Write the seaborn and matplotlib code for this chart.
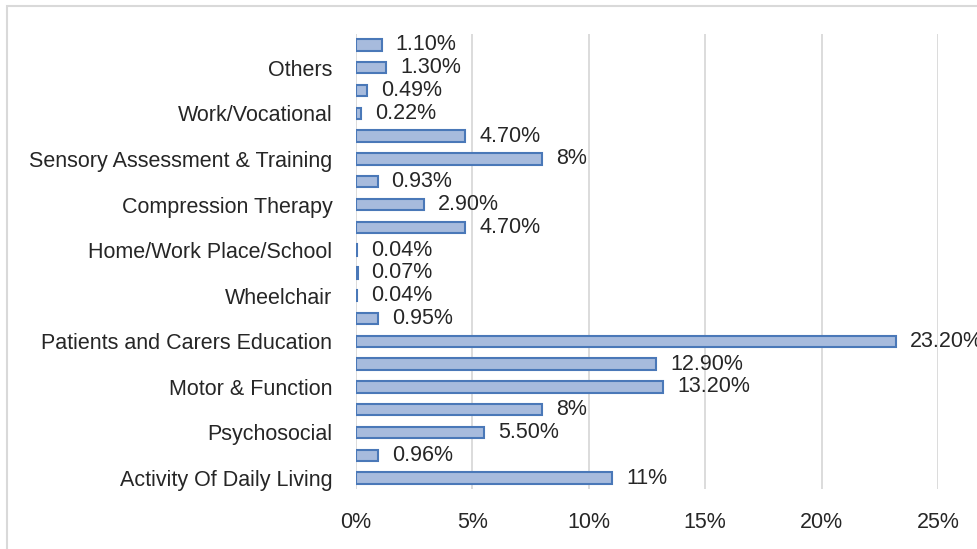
import matplotlib
matplotlib.use("Agg")
import matplotlib.pyplot as plt
import seaborn as sns
import pandas as pd
from matplotlib.patches import Rectangle

# Intervention shares (%), listed from the top bar to the bottom bar
values = [1.10, 1.30, 0.49, 0.22, 4.70, 8, 0.93, 2.90, 4.70, 0.04,
          0.07, 0.04, 0.95, 23.20, 12.90, 13.20, 8, 5.50, 0.96, 11]
tick_labels = ["", "Others", "", "Work/Vocational", "",
               "Sensory Assessment & Training", "", "Compression Therapy", "",
               "Home/Work Place/School", "", "Wheelchair", "",
               "Patients and Carers Education", "", "Motor & Function", "",
               "Psychosocial", "", "Activity Of Daily Living"]
x_ticks = [0, 5, 10, 15, 20, 25]


def fmt(v):
    return f"{v:.0f}%" if float(v).is_integer() else f"{v:.2f}%"


df = pd.DataFrame({"item": [f"b{i}" for i in range(len(values))],
                   "share": values})

sns.set_theme(style="white")
plt.rcParams["font.family"] = ["Liberation Sans", "DejaVu Sans"]
text_color = "#262626"

fig = plt.figure(figsize=(9.78, 5.49), dpi=100)
ax = fig.add_axes([356 / 978, 1 - 489.4 / 549, (938 - 356) / 978, (489.4 - 33.6) / 549])

sns.barplot(data=df, x="share", y="item", orient="h", order=df["item"],
            color="#a7bbdd", width=0.5, edgecolor="#4a78b8", linewidth=1.5,
            saturation=1, ax=ax, zorder=3)

ax.set_xlim(0, 25)
ax.set_ylim(len(values) - 0.5, -0.5)
ax.set_xticks(x_ticks)
ax.set_xticklabels([f"{t}%" for t in x_ticks])
ax.set_yticks(range(len(values)))
ax.set_yticklabels(tick_labels)
ax.set_xlabel("")
ax.set_ylabel("")
ax.tick_params(axis="both", length=0, labelsize=15.5, colors=text_color)
ax.tick_params(axis="y", pad=17)
ax.tick_params(axis="x", pad=16)
for s in ax.spines.values():
    s.set_visible(False)
ax.grid(axis="x", color="#d9d9d9", linewidth=1.3, zorder=0)
ax.grid(axis="y", visible=False)
ax.set_axisbelow(True)

# value labels at the end of each bar
for i, v in enumerate(values):
    ax.annotate(fmt(v), xy=(v, i), xytext=(10, 0), textcoords="offset points",
                va="center", ha="left", fontsize=15.5, color=text_color,
                clip_on=False, zorder=4)

# light frame around the chart area
fig.add_artist(Rectangle((7 / 978, -0.2), 1.2, 1.2 - 6 / 549,
                         transform=fig.transFigure, fill=False,
                         edgecolor="#d9d9d9", linewidth=1.5))

fig.savefig("out.png", dpi=100)
